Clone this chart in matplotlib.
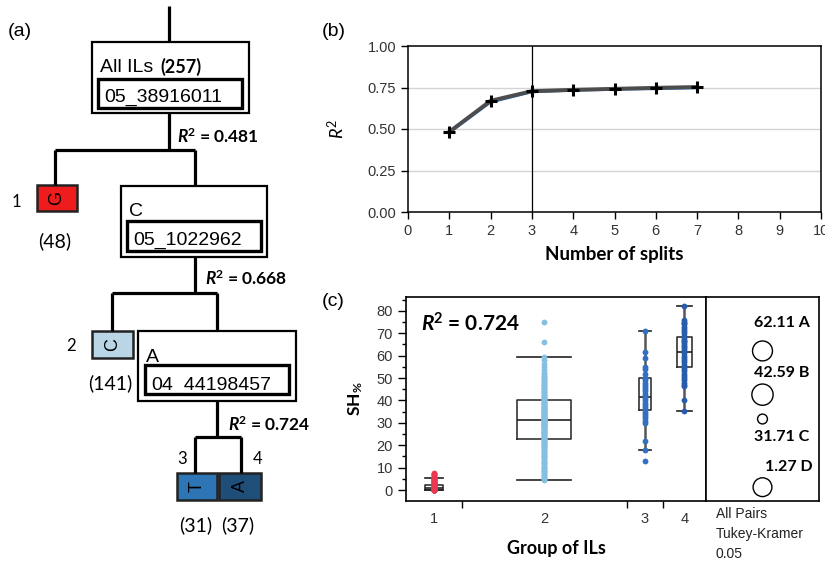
import matplotlib
matplotlib.use("Agg")
import matplotlib.pyplot as plt
from matplotlib.patches import Rectangle

plt.rcParams['mathtext.fontset'] = 'custom'
plt.rcParams['mathtext.rm'] = 'Lato'
plt.rcParams['mathtext.it'] = 'Lato:italic'
plt.rcParams['mathtext.bf'] = 'Lato:bold'
plt.rcParams['mathtext.bfit'] = 'Lato:bold:italic'

# ---------------- data ----------------
total_ils = 257
split_nodes = ["All ILs", "C", "A"]
split_markers = ["05_38916011", "05_1022962", "04_44198457"]
split_r2 = [0.481, 0.668, 0.724]
leaf_groups = ["1", "2", "3", "4"]
leaf_alleles = ["G", "C", "T", "A"]
leaf_counts = [48, 141, 31, 37]
leaf_colors = ["#ee1c1c", "#bad6e6", "#2e75b6", "#1f4e79"]

n_splits = [1, 2, 3, 4, 5, 6, 7]
r2_train = [0.483, 0.670, 0.728, 0.736, 0.742, 0.748, 0.753]
r2_valid = [0.476, 0.660, 0.722, 0.731, 0.737, 0.741, 0.746]
chosen_split = 3

sh_g1 = [0, 0, 0, 0, 0, 0, 0, 0, 0.1, 0.2, 0.3, 0.4, 0.5, 0.5, 0.6, 0.7, 0.8, 0.9,
         1.0, 1.0, 1.2, 1.5, 1.5, 2.0, 2.0, 2.0, 2.3, 2.5, 2.8, 3.0, 3.0, 3.3, 3.5,
         3.8, 4.0, 4.0, 4.3, 4.5, 5.0, 5.0, 5.3, 5.5, 6.0, 6.3, 6.5, 7.0, 7.3, 7.6]
sh_g2 = [4.3, 4.8, 5.5, 6.2, 6.8, 7.4, 8.0, 8.6, 9.1, 9.7, 10.4, 11.0, 11.6, 12.3,
         12.9, 13.5, 14.1, 14.8, 15.3, 15.9, 16.5, 17.2, 17.8, 18.3, 18.9, 19.5,
         20.0, 20.6, 21.2, 21.7, 22.3, 22.8, 23.3, 23.8, 24.3, 24.8, 25.3, 25.8,
         26.2, 26.7, 27.1, 27.6, 28.0, 28.4, 28.9, 29.3, 29.7, 30.1, 30.5, 30.9,
         31.2, 31.6, 32.0, 32.4, 32.8, 33.2, 33.6, 34.0, 34.4, 34.8, 35.2, 35.7,
         36.1, 36.6, 37.0, 37.5, 38.0, 38.5, 39.0, 39.5, 40.0, 40.6, 41.2, 41.8,
         42.4, 43.0, 43.7, 44.3, 45.0, 45.7, 46.4, 47.1, 47.8, 48.5, 49.2, 49.8,
         50.4, 51.0, 51.6, 52.2, 53.5, 55.0, 56.5, 58.0, 59.5, 66.0, 75.2,
         20.3, 22.0, 23.0, 24.0, 25.0, 26.0, 27.0, 28.0, 29.0, 30.0, 30.3, 31.0,
         31.4, 31.8, 32.2, 33.0, 34.2, 35.0, 36.0, 37.2, 38.2, 39.2, 40.3, 41.0,
         42.0, 43.3, 44.0, 45.5, 47.0, 48.0, 50.0, 25.5, 28.6, 33.8, 36.4, 21.5,
         19.2, 17.5, 15.0, 12.0, 10.0, 8.3, 6.5, 5.2]
sh_g3 = [71, 61.5, 59, 55, 54, 52, 50, 49, 48, 46, 45, 44, 42, 41, 40, 38, 37, 36,
         35, 33, 31, 30, 22, 18, 13, 50, 47, 43, 39, 34, 32]
sh_g4 = [82, 76, 75, 74, 73, 72, 71, 70, 69, 68, 67, 66, 65, 64, 63, 62, 61, 60, 59,
         58, 57, 56, 55, 54, 53, 52, 51, 50, 49, 48, 47, 46.5, 40, 35.5, 64.5, 66.5, 74.5]
group_points = [sh_g1, sh_g2, sh_g3, sh_g4]
point_colors = ["#e8394f", "#86c0e0", "#3170c2", "#2a5cae"]

box_q1 = [0.0, 22.8, 35.8, 55.0]
box_med = [0.7, 31.2, 41.5, 61.5]
box_q3 = [2.3, 40.2, 50.0, 68.5]
box_lo = [0.0, 4.4, 18.0, 35.5]
box_hi = [5.5, 59.6, 71.0, 82.0]

tukey_means = [62.11, 42.59, 31.71, 1.27]
tukey_letters = ["A", "B", "C", "D"]
tukey_radius = [4.45, 4.75, 2.2, 4.2]
tukey_label_dy = [12.6, 9.5, -8.0, 8.8]
tukey_label_x = [0.67, 0.67, 0.67, 0.73]

# ---------------- figure ----------------
W, H = 825, 562
fig = plt.figure(figsize=(W / 100, H / 100), dpi=100)


def rect(l, t, r, b):
    return [l / W, 1 - b / H, (r - l) / W, (b - t) / H]


# overlay axes in pixel coordinates for tree diagram and free text
axt = fig.add_axes([0, 0, 1, 1])
axt.set_xlim(0, W)
axt.set_ylim(H, 0)
axt.axis('off')

LW_TREE = 2.3
SANS = 'Liberation Sans'


def seg(x0, y0, x1, y1):
    axt.plot([x0, x1], [y0, y1], color='black', lw=LW_TREE, solid_capstyle='butt')


def box(x0, y0, x1, y1, lw, fc='none', ec='black'):
    axt.add_patch(Rectangle((x0, y0), x1 - x0, y1 - y0, fill=(fc != 'none'),
                            facecolor=fc, edgecolor=ec, lw=lw))


# tree layout (pixel positions)
node_outer = [(92, 42, 249, 113), (121, 186, 267, 257), (138, 331, 296, 401)]
node_inner = [(98, 79, 242, 108), (127, 221, 261, 251), (145, 365, 289, 394)]
node_name_xy = [(100, 67), (129, 212), (146, 357)]
node_marker_xy = [(104, 97), (133, 240), (151, 385)]
r2_xy = [(177, 137), (205, 279), (228, 425)]
leaf_box = [(37, 185, 77, 211), (92, 331, 133, 358), (177, 473, 217, 500), (219, 473, 261, 500)]
leaf_num_xy = [(16, 202), (71, 346), (182, 459), (258, 459)]
leaf_cnt_xy = [(55, 241), (110, 383), (196, 525), (238, 525)]

# branches
seg(169, 6, 169, 42)
seg(169, 113, 169, 150); seg(55, 150, 195, 150)
seg(55, 150, 55, 185); seg(195, 150, 195, 186)
seg(195, 257, 195, 293); seg(112, 293, 217, 293)
seg(112, 293, 112, 331); seg(217, 293, 217, 331)
seg(217, 401, 217, 437); seg(195, 437, 241, 437)
seg(195, 437, 195, 473); seg(241, 437, 241, 473)

for i in range(3):
    box(*node_outer[i], lw=1.6)
    box(*node_inner[i], lw=2.4)
    axt.text(*node_name_xy[i], split_nodes[i], fontsize=14, family=SANS, va='center', ha='left')
    axt.text(*node_marker_xy[i], split_markers[i], fontsize=14, family=SANS, va='center', ha='left')
    axt.text(*r2_xy[i], r"$\mathbfit{R}^{\mathbf{2}}$" + f" = {split_r2[i]:.3f}",
             fontsize=12.5, family='Lato', weight='bold', va='center', ha='left')
axt.text(160, 67, f"({total_ils})", fontsize=13, family='Lato', weight='bold', va='center', ha='left')

for i in range(4):
    x0, y0, x1, y1 = leaf_box[i]
    box(x0, y0, x1, y1, lw=1.8, fc=leaf_colors[i], ec='#222222')
    axt.text((x0 + x1) / 2, (y0 + y1) / 2, leaf_alleles[i], rotation=90, fontsize=13,
             family=SANS, ha='center', va='center')
    axt.text(*leaf_num_xy[i], leaf_groups[i], fontsize=12, family='Lato', ha='center', va='center')
    axt.text(*leaf_cnt_xy[i], f"({leaf_counts[i]})", fontsize=14, family='Lato', ha='center', va='center')

# panel labels
axt.text(8, 32, "(a)", fontsize=14, family=SANS, va='center')
axt.text(322, 32, "(b)", fontsize=14, family=SANS, va='center')
axt.text(322, 302, "(c)", fontsize=14, family=SANS, va='center')

# ---------------- panel (b) ----------------
axb = fig.add_axes(rect(408, 46, 821, 212))
axb.plot(n_splits, r2_valid, color='#2e6eb8', lw=1.6, zorder=3)
axb.plot(n_splits, r2_train, color='#4d4d4d', lw=2.8, zorder=4)
axb.plot(n_splits, r2_train, ls='none', marker='+', color='black', ms=8, mew=2.2, zorder=5)
axb.axvline(chosen_split, color='black', lw=0.9, zorder=2)
axb.set_xlim(0, 10)
axb.set_ylim(0, 1)
axb.set_xticks(range(0, 11))
axb.set_yticks([0, 0.25, 0.5, 0.75, 1.0])
axb.set_yticklabels(["0.00", "0.25", "0.50", "0.75", "1.00"])
for yv in [0.25, 0.5, 0.75]:
    axb.axhline(yv, color='#d4d4d4', lw=1.0, zorder=1)
axb.tick_params(axis='both', length=5, width=1, labelsize=10.5, colors='black', labelcolor='#333333')
for lab in axb.get_xticklabels() + axb.get_yticklabels():
    lab.set_family(SANS)
for s in axb.spines.values():
    s.set_linewidth(1.1)
axb.set_xlabel("Number of splits", fontsize=13.5, family='Lato', weight='bold', labelpad=6)
axb.set_ylabel(r"$\mathit{R}^{2}$", fontsize=13, labelpad=14)

# ---------------- panel (c) ----------------
axc = fig.add_axes(rect(406, 297, 706, 501))
bounds = [0]
for c in leaf_counts:
    bounds.append(bounds[-1] + c)
centers = [(bounds[i] + bounds[i + 1]) / 2 for i in range(4)]
widths = [0.33 * c for c in leaf_counts]

stats = []
for i in range(4):
    stats.append(dict(med=box_med[i], q1=box_q1[i], q3=box_q3[i],
                      whislo=box_lo[i], whishi=box_hi[i], fliers=[]))
axc.bxp(stats, positions=centers, widths=widths, capwidths=widths, showfliers=False,
        patch_artist=False,
        boxprops=dict(color='#333333', lw=1.2),
        medianprops=dict(color='#222222', lw=1.2),
        whiskerprops=dict(color='#555555', lw=1.8),
        capprops=dict(color='#222222', lw=1.2), manage_ticks=False)
for i in range(4):
    axc.plot([centers[i]] * len(group_points[i]), group_points[i], ls='none', marker='o',
             ms=4.2, mew=0, color=point_colors[i], zorder=4)

axc.set_xlim(0, total_ils)
axc.set_ylim(-4.9, 86.2)
axc.set_xticks(centers)
axc.set_xticklabels(leaf_groups)
axc.set_xticks(bounds[1:-1], minor=True)
axc.tick_params(axis='x', which='major', length=0, pad=8, labelsize=10.5, labelcolor='#333333')
axc.tick_params(axis='x', which='minor', length=5, width=1)
axc.set_yticks(range(0, 81, 10))
axc.set_yticks(range(5, 86, 10), minor=True)
axc.tick_params(axis='y', which='major', length=6, width=1, labelsize=10.5, labelcolor='#333333')
axc.tick_params(axis='y', which='minor', length=3, width=1)
for lab in axc.get_xticklabels() + axc.get_yticklabels():
    lab.set_family(SANS)
for s in axc.spines.values():
    s.set_linewidth(1.2)
axc.set_xlabel("Group of ILs", fontsize=13, family='Lato', weight='bold', labelpad=10)
axc.set_ylabel(r"SH$_{\mathbf{\%}}$", fontsize=12.5, family='Lato', weight='bold', labelpad=8)
axc.text(0.05, 0.87, r"$\mathbfit{R}^{\mathbf{2}}$" + f" = {split_r2[-1]:.3f}",
         transform=axc.transAxes, fontsize=15, family='Lato', weight='bold', va='center')

# comparison circles
axr = fig.add_axes(rect(706, 297, 819, 501))
axr.set_xlim(0, 1)
axr.set_ylim(-4.9, 86.2)
axr.set_xticks([])
axr.set_yticks([])
for s in axr.spines.values():
    s.set_linewidth(1.2)
px_per_unit = (axr.transData.transform((0, 1))[1] - axr.transData.transform((0, 0))[1])
for i in range(4):
    r_pt = tukey_radius[i] * px_per_unit * 72 / 100
    axr.scatter([0.5], [tukey_means[i]], s=(2 * r_pt) ** 2, facecolors='none',
                edgecolors='black', linewidths=1.0, zorder=3)
    axr.text(tukey_label_x[i], tukey_means[i] + tukey_label_dy[i],
             f"{tukey_means[i]:.2f} {tukey_letters[i]}", fontsize=11.5, family='Lato',
             weight='bold', ha='center', va='center')

axt.text(716, 514, "All Pairs", fontsize=10, family=SANS, va='center', color='#222222')
axt.text(716, 534, "Tukey-Kramer", fontsize=10, family=SANS, va='center', color='#222222')
axt.text(716, 554, "0.05", fontsize=10, family=SANS, va='center', color='#222222')

fig.savefig("out.png", dpi=100)
